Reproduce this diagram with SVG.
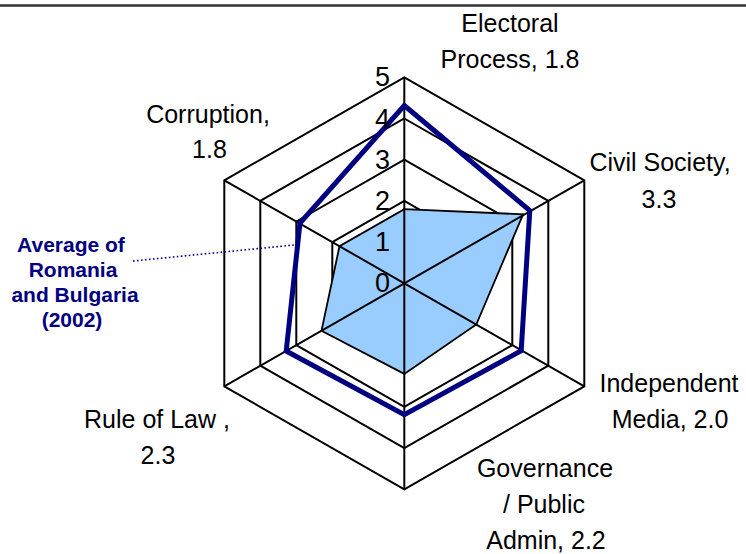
<svg xmlns="http://www.w3.org/2000/svg" width="746" height="554" viewBox="0 0 746 554">
<style>
.grid{fill:none;stroke:#000;stroke-width:2;stroke-linejoin:miter}
.spoke{stroke:#000;stroke-width:2}
.lbl{font-family:"Liberation Sans",Arial,sans-serif;font-size:25px;fill:#000;text-anchor:middle}
.ax{font-family:"Liberation Sans",Arial,sans-serif;font-size:27px;fill:#000;text-anchor:end}
.leg{font-family:"Liberation Sans",Arial,sans-serif;font-size:21px;font-weight:bold;fill:#000080;text-anchor:middle}
</style>
<rect width="746" height="554" fill="#fff"/>
<line x1="0" y1="5.5" x2="746" y2="5.5" stroke="#333" stroke-width="2.5"/>
<g id="grid">
<polygon class="grid" points="404.3,242.1 440.3,262.7 440.3,303.9 404.3,324.5 368.3,303.9 368.3,262.7"/>
<polygon class="grid" points="404.3,200.9 476.3,242.1 476.3,324.5 404.3,365.7 332.3,324.5 332.3,242.1"/>
<polygon class="grid" points="404.3,159.7 512.3,221.5 512.3,345.1 404.3,406.9 296.3,345.1 296.3,221.5"/>
<polygon class="grid" points="404.3,118.5 548.3,200.9 548.3,365.7 404.3,448.1 260.3,365.7 260.3,200.9"/>
<polygon class="grid" points="404.3,77.3 584.3,180.3 584.3,386.3 404.3,489.3 224.3,386.3 224.3,180.3"/>
</g>
<g id="series-average">
<polygon points="404.3,209.1 523.1,214.3 476.3,324.5 404.3,373.9 321.5,330.7 339.5,246.2" fill="#99CCFF" stroke="#000" stroke-width="1.8" stroke-linejoin="miter"/>
</g>
<g id="connectors">
<line class="spoke" x1="404.3" y1="283.3" x2="404.3" y2="77.3"/>
<line class="spoke" x1="404.3" y1="283.3" x2="584.3" y2="180.3"/>
<line class="spoke" x1="404.3" y1="283.3" x2="584.3" y2="386.3"/>
<line class="spoke" x1="404.3" y1="283.3" x2="404.3" y2="489.3"/>
<line class="spoke" x1="404.3" y1="283.3" x2="224.3" y2="386.3"/>
<line class="spoke" x1="404.3" y1="283.3" x2="224.3" y2="180.3"/>
<line x1="133" y1="261" x2="294" y2="245" stroke="#000080" stroke-width="1.6" stroke-dasharray="1.6 2.4"/>
</g>
<g id="series-navy">
<polygon points="404.3,105.5 529.8,210.5 521.2,350.8 404.3,414.6 286.2,351 300,223" fill="none" stroke="#000080" stroke-width="5" stroke-linejoin="miter"/>
</g>
<g id="axis-labels">
<text class="ax" x="390" y="86.3">5</text>
<text class="ax" x="390" y="127.5">4</text>
<text class="ax" x="390" y="168.7">3</text>
<text class="ax" x="390" y="209.9">2</text>
<text class="ax" x="390" y="251.1">1</text>
<text class="ax" x="390" y="292.3">0</text>
</g>
<g id="node-electoral">
<text class="lbl" x="510" y="32.3">Electoral</text>
<text class="lbl" x="510" y="68.3">Process, 1.8</text>
</g>
<g id="node-civil">
<text class="lbl" x="660" y="170.7">Civil Society,</text>
<text class="lbl" x="659" y="208">3.3</text>
</g>
<g id="node-media">
<text class="lbl" x="669" y="392.3">Independent</text>
<text class="lbl" x="670" y="428.3">Media, 2.0</text>
</g>
<g id="node-governance">
<text class="lbl" x="545" y="476.7">Governance</text>
<text class="lbl" x="544" y="513">/ Public</text>
<text class="lbl" x="546" y="549.3">Admin, 2.2</text>
</g>
<g id="node-rule">
<text class="lbl" x="157" y="427.7">Rule of Law ,</text>
<text class="lbl" x="158" y="464">2.3</text>
</g>
<g id="node-corruption">
<text class="lbl" x="208" y="123.3">Corruption,</text>
<text class="lbl" x="209.5" y="158.3">1.8</text>
</g>
<g id="node-legend">
<text class="leg" x="71" y="251.5">Average of</text>
<text class="leg" x="73" y="276.5">Romania</text>
<text class="leg" x="75" y="301.5">and Bulgaria</text>
<text class="leg" x="72" y="326.5">(2002)</text>
</g>
</svg>
